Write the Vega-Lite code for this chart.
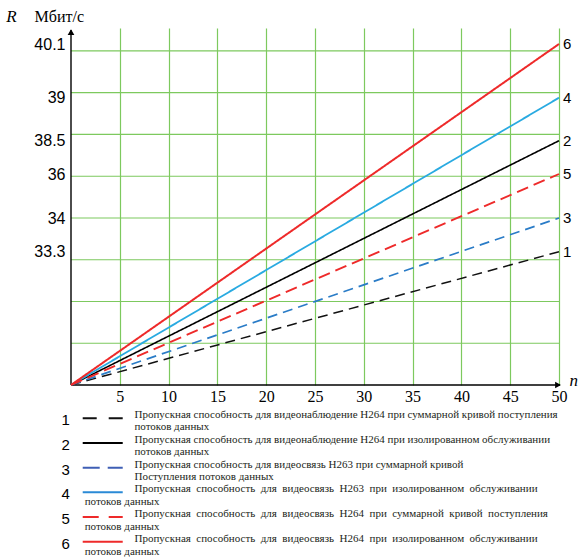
{
  "$schema": "https://vega.github.io/schema/vega-lite/v6.json",
  "padding": {"left": 6, "top": 8, "right": 4, "bottom": 0},
  "spacing": 2,
  "config": {"view": {"stroke": null}, "font": "Liberation Sans"},
  "datasets": {
    "curves": [
      {"series": "1", "n": 0, "R": 0}, {"series": "1", "n": 50, "R": 33.3},
      {"series": "2", "n": 0, "R": 0}, {"series": "2", "n": 50, "R": 38.5},
      {"series": "3", "n": 0, "R": 0}, {"series": "3", "n": 50, "R": 34},
      {"series": "4", "n": 0, "R": 0}, {"series": "4", "n": 50, "R": 39},
      {"series": "5", "n": 0, "R": 0}, {"series": "5", "n": 50, "R": 36},
      {"series": "6", "n": 0, "R": 0}, {"series": "6", "n": 50, "R": 40.1}
    ],
    "gridRows": [{"g": 1}, {"g": 2}, {"g": 3}, {"g": 4}, {"g": 5}, {"g": 6}, {"g": 7}, {"g": 8}],
    "legend": [
      {"row": 1, "series": "1", "line1": "Пропускная способность для видеонаблюдение H264 при суммарной кривой поступления", "line2": "потоков данных"},
      {"row": 2, "series": "2", "line1": "Пропускная способность для видеонаблюдение H264 при изолированном обслуживании", "line2": " потоков данных"},
      {"row": 3, "series": "3", "line1": "Пропускная способность для видеосвязь H263 при суммарной кривой", "line2": "Поступления  потоков данных"},
      {"row": 4, "series": "4", "line1": "Пропускная \u00a0способность \u00a0для \u00a0видеосвязь \u00a0H263 \u00a0при \u00a0изолированном \u00a0обслуживании", "line2": "потоков данных"},
      {"row": 5, "series": "5", "line1": "Пропускная \u00a0способность \u00a0для \u00a0видеосвязь \u00a0H264 \u00a0при \u00a0суммарной \u00a0кривой \u00a0поступления", "line2": "потоков данных"},
      {"row": 6, "series": "6", "line1": "Пропускная \u00a0способность \u00a0для \u00a0видеосвязь \u00a0H264 \u00a0при \u00a0изолированном \u00a0обслуживании", "line2": "потоков данных"}
    ]
  },
  "resolve": {"scale": {"color": "independent", "strokeDash": "independent", "strokeWidth": "independent", "x": "independent", "y": "independent"}},
  "vconcat": [
    {
      "width": 488,
      "height": 357,
      "layer": [
        {
          "layer": [
            {
              "data": {"name": "gridRows"},
              "mark": {"type": "rule", "color": "#7dc95e", "strokeWidth": 1.2},
              "encoding": {
                "y": {"field": "g", "type": "quantitative", "scale": {"domain": [0, 8.55], "nice": false, "zero": false}, "axis": null}
              }
            },
            {
              "data": {"values": [{}]},
              "mark": {"type": "rule", "color": "#000000", "strokeWidth": 1.4},
              "encoding": {
                "x": {"datum": 0, "type": "quantitative", "scale": {"domain": [0, 50], "nice": false}},
                "y": {"datum": 0, "type": "quantitative", "scale": {"domain": [0, 8.55], "nice": false, "zero": false}},
                "y2": {"datum": 8.5}
              }
            },
            {
              "data": {"values": [{}]},
              "mark": {"type": "rule", "color": "#000000", "strokeWidth": 1.4},
              "encoding": {
                "x": {"datum": 0, "type": "quantitative", "scale": {"domain": [0, 50], "nice": false}},
                "x2": {"datum": 50.1},
                "y": {"datum": 0, "type": "quantitative", "scale": {"domain": [0, 8.55], "nice": false, "zero": false}}
              }
            },
            {
              "data": {"values": [{}]},
              "mark": {"type": "point", "shape": "triangle-up", "filled": true, "color": "#000000", "size": 45, "opacity": 1},
              "encoding": {
                "x": {"datum": 0, "type": "quantitative", "scale": {"domain": [0, 50], "nice": false}},
                "y": {"datum": 8.45, "type": "quantitative", "scale": {"domain": [0, 8.55], "nice": false, "zero": false}}
              }
            },
            {
              "data": {"values": [{}]},
              "mark": {"type": "point", "shape": "triangle-right", "filled": true, "color": "#000000", "size": 45, "opacity": 1},
              "encoding": {
                "x": {"datum": 49.9, "type": "quantitative", "scale": {"domain": [0, 50], "nice": false}},
                "y": {"datum": 0, "type": "quantitative", "scale": {"domain": [0, 8.55], "nice": false, "zero": false}}
              }
            },
            {
              "data": {"values": [{"label": "R", "x": -6.1}]},
              "mark": {"type": "text", "font": "Times New Roman, Liberation Serif, serif", "fontStyle": "italic", "fontSize": 17, "color": "#000000", "baseline": "middle", "align": "center"},
              "encoding": {
                "x": {"field": "x", "type": "quantitative", "scale": {"domain": [0, 50], "nice": false}},
                "y": {"datum": 8.81, "type": "quantitative", "scale": {"domain": [0, 8.55], "nice": false, "zero": false}},
                "text": {"field": "label"}
              }
            },
            {
              "data": {"values": [{"label": "Мбит/с", "x": -1.2}]},
              "mark": {"type": "text", "font": "Times New Roman, Liberation Serif, serif", "fontSize": 16, "color": "#000000", "baseline": "middle", "align": "center"},
              "encoding": {
                "x": {"field": "x", "type": "quantitative", "scale": {"domain": [0, 50], "nice": false}},
                "y": {"datum": 8.81, "type": "quantitative", "scale": {"domain": [0, 8.55], "nice": false, "zero": false}},
                "text": {"field": "label"}
              }
            },
            {
              "data": {"values": [{"label": "n", "x": 51.5}]},
              "mark": {"type": "text", "font": "Times New Roman, Liberation Serif, serif", "fontStyle": "italic", "fontSize": 17, "color": "#000000", "baseline": "middle", "align": "center"},
              "encoding": {
                "x": {"field": "x", "type": "quantitative", "scale": {"domain": [0, 50], "nice": false}},
                "y": {"datum": 0.1, "type": "quantitative", "scale": {"domain": [0, 8.55], "nice": false, "zero": false}},
                "text": {"field": "label"}
              }
            }
          ]
        },
        {
          "data": {"name": "curves"},
          "layer": [
            {
              "mark": {"type": "line", "clip": false},
              "encoding": {
                "x": {
                  "field": "n", "type": "quantitative",
                  "scale": {"domain": [0, 50], "nice": false},
                  "axis": {
                    "values": [5, 10, 15, 20, 25, 30, 35, 40, 45, 50],
                    "grid": true, "gridColor": "#7dc95e", "gridWidth": 1.2, "gridOpacity": 1,
                    "domain": false, "ticks": false, "title": null,
                    "labelFont": "Times New Roman, Liberation Serif, serif", "labelFontSize": 16, "labelColor": "#000000", "labelPadding": 3,
                    "labelFlush": false
                  }
                },
                "y": {
                  "field": "R", "type": "quantitative",
                  "scale": {"type": "linear", "domain": [0, 33.3, 34, 36, 38.5, 39, 40.1], "range": [357, 223.7, 190, 146, 112.7, 69.7, 16], "nice": false, "zero": false},
                  "axis": {
                    "orient": "left",
                    "values": [33.3, 34, 36, 38.5, 39, 40.1],
                    "format": ".3~g",
                    "grid": false, "domain": false, "ticks": false, "title": null,
                    "labelFont": "Liberation Sans", "labelFontSize": 16, "labelColor": "#000000", "labelPadding": 6
                  }
                },
                "detail": {"field": "series"},
                "color": {"field": "series", "type": "nominal", "legend": null, "scale": {"domain": ["1", "2", "3", "4", "5", "6"], "range": ["#111111", "#000000", "#2a7cc7", "#29aae1", "#ee2a2a", "#ee2a2a"]}},
                "strokeDash": {"field": "series", "type": "nominal", "legend": null, "scale": {"domain": ["1", "2", "3", "4", "5", "6"], "range": [[10, 6], [1, 0], [10, 6], [1, 0], [12, 6], [1, 0]]}},
                "strokeWidth": {"field": "series", "type": "ordinal", "legend": null, "scale": {"domain": ["1", "2", "3", "4", "5", "6"], "range": [1.5, 2, 1.5, 2, 2.5, 1.8]}}
              }
            },
            {
              "transform": [{"filter": "datum.n == 50"}],
              "mark": {"type": "text", "font": "Liberation Sans", "fontSize": 15, "color": "#000000", "align": "left", "baseline": "middle", "dx": 4},
              "encoding": {
                "x": {"field": "n", "type": "quantitative", "scale": {"domain": [0, 50], "nice": false}},
                "y": {"field": "R", "type": "quantitative"},
                "text": {"field": "series"}
              }
            }
          ]
        }
      ],
      "resolve": {"scale": {"y": "independent"}}
    },
    {
      "width": 488,
      "height": 148,
      "data": {"name": "legend"},
      "layer": [
        {
          "mark": {"type": "text", "font": "Liberation Sans", "fontSize": 15, "color": "#000000", "align": "center", "baseline": "middle", "dy": 2},
          "encoding": {
            "x": {"datum": -0.55, "type": "quantitative", "scale": {"domain": [0, 50], "nice": false}, "axis": null},
            "y": {"field": "row", "type": "quantitative", "scale": {"domain": [0.5, 6.5], "reverse": true, "nice": false, "zero": false}, "axis": null},
            "text": {"field": "series"}
          }
        },
        {
          "mark": {"type": "rule"},
          "encoding": {
            "x": {"datum": 1.2, "type": "quantitative", "scale": {"domain": [0, 50], "nice": false}, "axis": null},
            "x2": {"datum": 5.3},
            "y": {"field": "row", "type": "quantitative", "scale": {"domain": [0.5, 6.5], "reverse": true, "nice": false, "zero": false}, "axis": null},
            "color": {"field": "series", "type": "nominal", "legend": null, "scale": {"domain": ["1", "2", "3", "4", "5", "6"], "range": ["#111111", "#000000", "#3f5fb5", "#2a8ad6", "#ee2a2a", "#ee2a2a"]}},
            "strokeDash": {"field": "series", "type": "nominal", "legend": null, "scale": {"domain": ["1", "2", "3", "4", "5", "6"], "range": [[14, 12], [1, 0], [17, 8], [1, 0], [16, 10], [1, 0]]}},
            "strokeWidth": {"field": "series", "type": "ordinal", "legend": null, "scale": {"domain": ["1", "2", "3", "4", "5", "6"], "range": [2, 2, 3, 2, 3, 2]}}
          }
        },
        {
          "mark": {"type": "text", "font": "Times New Roman, Liberation Serif, serif", "fontSize": 11, "color": "#231f20", "align": "left", "baseline": "middle", "dy": -3},
          "encoding": {
            "x": {"datum": 6.5, "type": "quantitative", "scale": {"domain": [0, 50], "nice": false}, "axis": null},
            "y": {"field": "row", "type": "quantitative", "scale": {"domain": [0.5, 6.5], "reverse": true, "nice": false, "zero": false}, "axis": null},
            "text": {"field": "line1"}
          }
        },
        {
          "transform": [{"filter": "datum.row <= 3"}],
          "mark": {"type": "text", "font": "Times New Roman, Liberation Serif, serif", "fontSize": 11, "color": "#231f20", "align": "left", "baseline": "middle", "dy": 9},
          "encoding": {
            "x": {"datum": 6.5, "type": "quantitative", "scale": {"domain": [0, 50], "nice": false}, "axis": null},
            "y": {"field": "row", "type": "quantitative", "scale": {"domain": [0.5, 6.5], "reverse": true, "nice": false, "zero": false}, "axis": null},
            "text": {"field": "line2"}
          }
        },
        {
          "transform": [{"filter": "datum.row > 3"}],
          "mark": {"type": "text", "font": "Times New Roman, Liberation Serif, serif", "fontSize": 11, "color": "#231f20", "align": "left", "baseline": "middle", "dy": 10},
          "encoding": {
            "x": {"datum": 1.4, "type": "quantitative", "scale": {"domain": [0, 50], "nice": false}, "axis": null},
            "y": {"field": "row", "type": "quantitative", "scale": {"domain": [0.5, 6.5], "reverse": true, "nice": false, "zero": false}, "axis": null},
            "text": {"field": "line2"}
          }
        }
      ]
    }
  ]
}
